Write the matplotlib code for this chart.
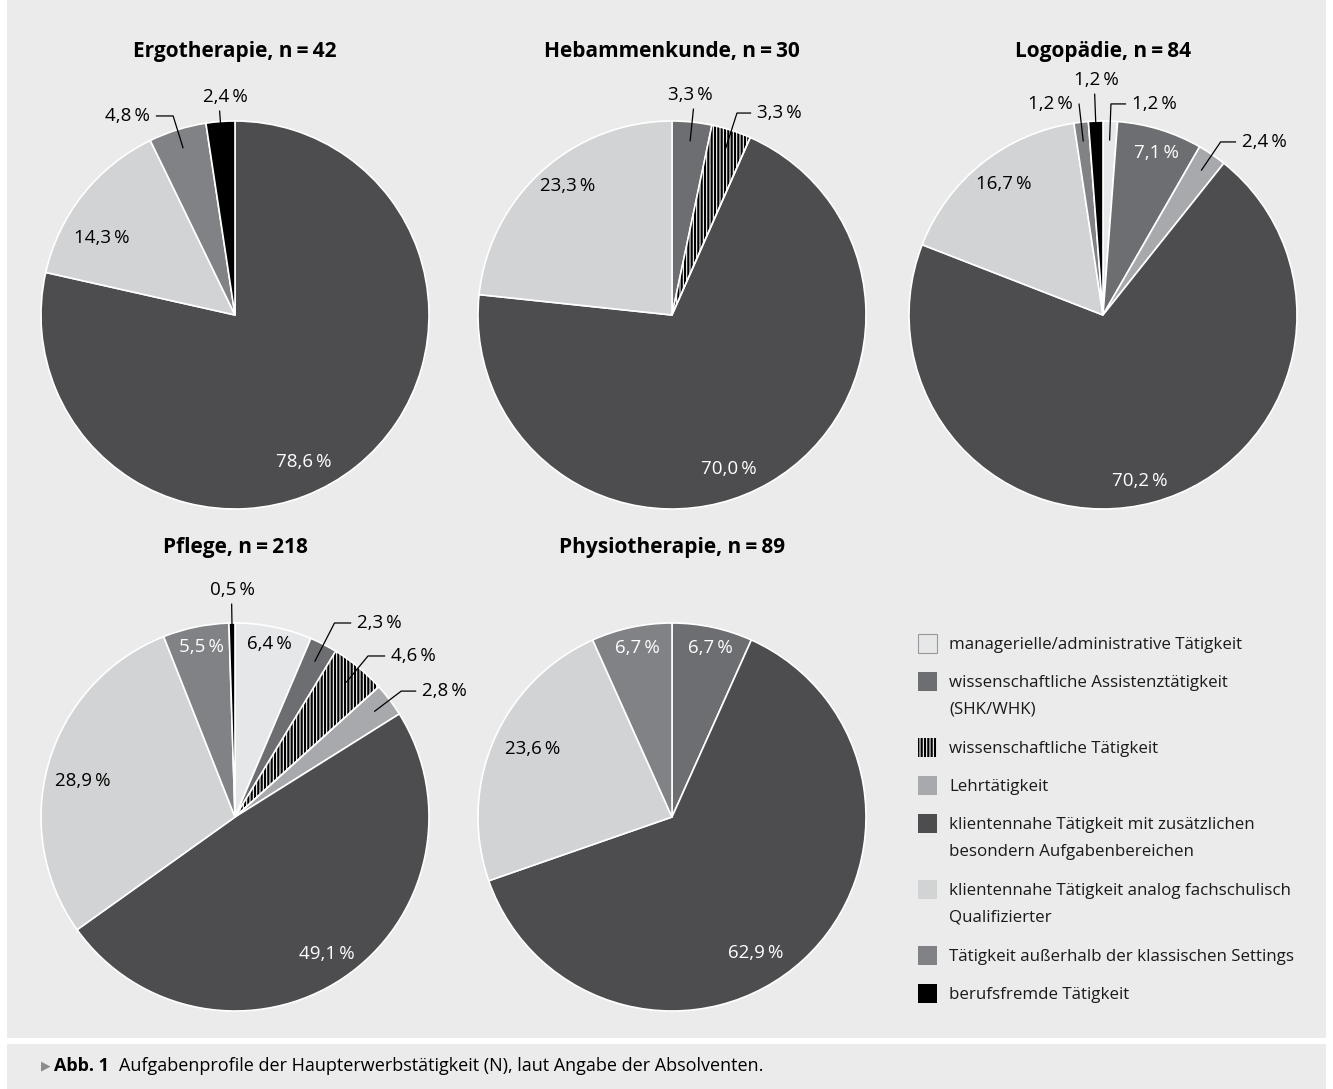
import numpy as np
import matplotlib
matplotlib.use('Agg')
import matplotlib.pyplot as plt
from matplotlib.patches import Rectangle, Wedge

plt.rcParams['font.family'] = ['Open Sans', 'DejaVu Sans']
plt.rcParams['hatch.linewidth'] = 1.6

# ---- data ----
categories = [
    'managerielle/administrative Tätigkeit',
    'wissenschaftliche Assistenztätigkeit\n(SHK/WHK)',
    'wissenschaftliche Tätigkeit',
    'Lehrtätigkeit',
    'klientennahe Tätigkeit mit zusätzlichen\nbesondern Aufgabenbereichen',
    'klientennahe Tätigkeit analog fachschulisch\nQualifizierter',
    'Tätigkeit außerhalb der klassischen Settings',
    'berufsfremde Tätigkeit',
]
titles = ['Ergotherapie', 'Hebammenkunde', 'Logopädie', 'Pflege', 'Physiotherapie']
n_total = [42, 30, 84, 218, 89]

ergo = [0, 0, 0, 0, 78.6, 14.3, 4.8, 2.4]
hebammen = [0, 3.3, 3.3, 0, 70.0, 23.3, 0, 0]
logo = [1.2, 7.1, 0, 2.4, 70.2, 16.7, 1.2, 1.2]
pflege = [6.4, 2.3, 4.6, 2.8, 49.1, 28.9, 5.5, 0.5]
physio = [0, 6.7, 0, 0, 62.9, 23.6, 6.7, 0]
shares = [ergo, hebammen, logo, pflege, physio]

# ---- style ----
colors = ['#e6e7e8', '#6d6e71', 'white', '#a7a9ac', '#4d4d4f', '#d1d3d4', '#808285', '#000000']
txt_colors = ['black', 'white', 'black', 'black', 'white', 'black', 'white', 'white']
BG = '#ebebeb'

W, H = 1333, 1089
R = 194
centers = [(235, 315), (672, 315), (1103, 315), (235, 817), (672, 817)]

# label placement in radius units: (x, y, mode); mode: in / left / right / top
layout = [
    {4: (0.356, -0.758, 'in'), 5: (-0.686, 0.397, 'in'),
     6: (-0.438, 1.026, 'right'), 7: (-0.052, 1.124, 'top')},
    {1: (0.093, 1.134, 'top'), 2: (0.438, 1.041, 'left'),
     4: (0.294, -0.794, 'in'), 5: (-0.536, 0.665, 'in')},
    {0: (0.149, 1.088, 'left'), 1: (0.273, 0.835, 'in'), 3: (0.716, 0.892, 'left'),
     4: (0.191, -0.856, 'in'), 5: (-0.51, 0.675, 'in'),
     6: (-0.155, 1.088, 'right'), 7: (-0.036, 1.211, 'top')},
    {0: (0.175, 0.892, 'in'), 1: (0.629, 1.0, 'left'), 2: (0.804, 0.830, 'left'),
     3: (0.964, 0.649, 'left'), 4: (0.474, -0.706, 'in'), 5: (-0.784, 0.186, 'in'),
     6: (-0.175, 0.876, 'in'), 7: (-0.015, 1.17, 'top')},
    {1: (0.196, 0.871, 'in'), 4: (0.433, -0.701, 'in'),
     5: (-0.716, 0.351, 'in'), 6: (-0.18, 0.871, 'in')},
]

LABEL_FS = 13.5


def fx(x):
    return x / W


def fy(y):
    return 1 - y / H


def pct(v):
    return f'{v:.1f}'.replace('.', ',') + '\u2009%'


fig = plt.figure(figsize=(W / 100, H / 100), dpi=100, facecolor=BG)

# white frame / separator strips
for (x0, y0, x1, y1) in [(0, 0, 7, H), (1326, 0, W, H), (0, 1038, W, 1044)]:
    fig.patches.append(Rectangle((fx(x0), fy(y1)), fx(x1 - x0), (y1 - y0) / H,
                                 transform=fig.transFigure, facecolor='white',
                                 edgecolor='none', zorder=-1))

ext = 1.5
for k, (cx, cy) in enumerate(centers):
    side = 2 * ext * R
    ax = fig.add_axes([fx(cx - side / 2), fy(cy + side / 2), side / W, side / H])
    vals = np.array(shares[k], dtype=float)
    idx = np.where(vals > 0)[0]
    wedges, _ = ax.pie(vals[idx], colors=[colors[i] for i in idx], startangle=90,
                       counterclock=False, radius=1,
                       wedgeprops=dict(edgecolor='white', linewidth=1.2))
    ax.set_xlim(-ext, ext)
    ax.set_ylim(-ext, ext)
    ax.set_aspect('equal')
    ax.axis('off')

    for w, i in zip(wedges, idx):
        if i == 2:
            w.set_hatch('|||||')
            w.set_edgecolor('black')
            w.set_linewidth(0)
            ax.add_patch(Wedge((0, 0), 1, w.theta1, w.theta2, fill=False,
                               edgecolor='white', linewidth=1.2, zorder=3))
        if i not in layout[k]:
            continue
        tx, ty, mode = layout[k][i]
        label = pct(vals[i])
        if mode == 'in':
            ax.text(tx, ty, label, ha='center', va='center', fontsize=LABEL_FS,
                    color=txt_colors[i])
            continue
        a = np.deg2rad((w.theta1 + w.theta2) / 2)
        d = np.array([np.cos(a), np.sin(a)])
        p0 = 0.9 * d
        if mode == 'top':
            p1 = d * (ty - 0.07) / d[1]
            xs, ys = [p0[0], p1[0]], [p0[1], p1[1]]
            ax.text(tx, ty, label, ha='center', va='center', fontsize=LABEL_FS)
        else:
            p1 = d * ty / d[1]
            gap = 0.03 if mode == 'left' else -0.03
            xs, ys = [p0[0], p1[0], tx - gap], [p0[1], p1[1], ty]
            ax.text(tx, ty, label, ha=mode, va='center', fontsize=LABEL_FS)
        ax.plot(xs, ys, color='black', linewidth=0.9, zorder=4, solid_capstyle='butt')

    title_y = 52 if cy < 500 else 548
    fig.text(fx(cx), fy(title_y), f'{titles[k]}, n\u2009=\u2009{n_total[k]}',
             ha='center', va='center', fontsize=15, fontweight='bold')

# legend (drawn by hand to keep the spacing of the original)
top = 634
for i, lab in enumerate(categories):
    lines = lab.split('\n')
    rect = Rectangle((fx(918), fy(top + 19)), 19 / W, 19 / H, transform=fig.transFigure,
                     facecolor=colors[i], edgecolor='#9a9a9a' if i == 0 else 'none',
                     linewidth=0.8)
    if i == 2:
        rect.set_hatch('|||||')
        rect.set_edgecolor('black')
        rect.set_linewidth(0)
    fig.patches.append(rect)
    for j, line in enumerate(lines):
        fig.text(fx(949), fy(top + 11 + j * 27), line, ha='left', va='center',
                 fontsize=12.2, color='#1a1a1a')
    top += 38 + 28 * (len(lines) - 1)

# caption
fig.text(fx(41), fy(1066), '\u25b6', ha='left', va='center', fontsize=9,
         color='#8c8c8c', family='DejaVu Sans')
fig.text(fx(54), fy(1066), 'Abb. 1', ha='left', va='center', fontsize=13,
         fontweight='bold')
fig.text(fx(119), fy(1066),
         'Aufgabenprofile der Haupterwerbstätigkeit (N), laut Angabe der Absolventen.',
         ha='left', va='center', fontsize=13)

fig.savefig('out.png', dpi=100, facecolor=BG)
